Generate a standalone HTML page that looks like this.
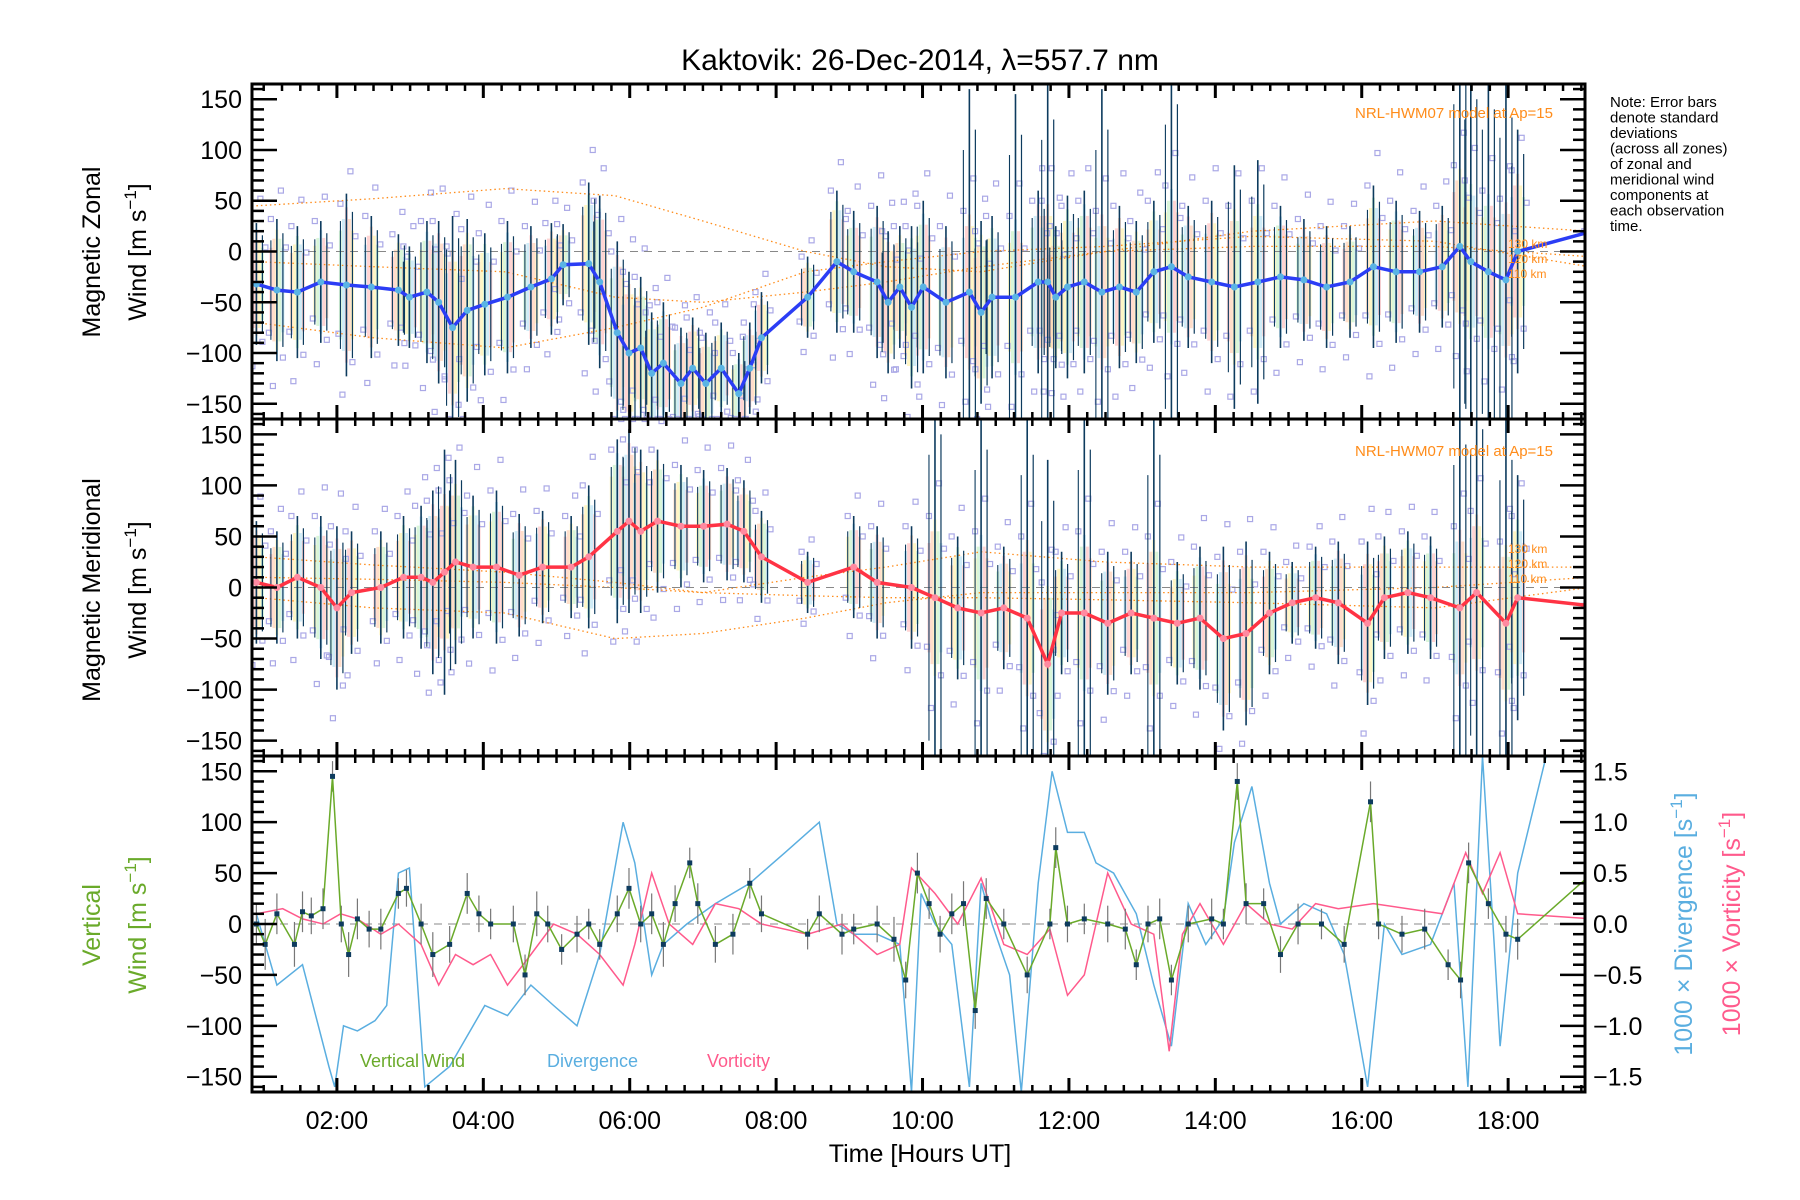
<!DOCTYPE html>
<html><head><meta charset="utf-8">
<style>
html,body{margin:0;padding:0;background:#fff;}
svg{display:block;font-family:"Liberation Sans","DejaVu Sans",sans-serif;}
</style></head>
<body>
<svg id="chart" width="1800" height="1200" viewBox="0 0 1800 1200" xmlns="http://www.w3.org/2000/svg">
<text x="920" y="70" font-size="30" text-anchor="middle">Kaktovik: 26-Dec-2014, λ=557.7 nm</text>
<text font-size="15" x="1610" y="107">
<tspan x="1610" dy="0">Note: Error bars</tspan>
<tspan x="1610" dy="15.5">denote standard</tspan>
<tspan x="1610" dy="15.5">deviations</tspan>
<tspan x="1610" dy="15.5">(across all zones)</tspan>
<tspan x="1610" dy="15.5">of zonal and</tspan>
<tspan x="1610" dy="15.5">meridional wind</tspan>
<tspan x="1610" dy="15.5">components at</tspan>
<tspan x="1610" dy="15.5">each observation</tspan>
<tspan x="1610" dy="15.5">time.</tspan>
</text>
<g id="g1"></g><g id="g2"></g><g id="g3"></g><g id="axes"></g>
</svg>
<script>
// ---- data ----
const zonT=[0.90,1.18,1.46,1.78,2.13,2.47,2.84,2.99,3.23,3.39,3.58,3.78,4.02,4.33,4.65,4.93,5.09,5.44,5.59,5.83,5.99,6.15,6.30,6.46,6.70,6.86,7.04,7.25,7.49,7.64,7.80,8.43,8.83,9.06,9.38,9.53,9.69,9.85,10.01,10.32,10.64,10.80,10.95,11.27,11.58,11.71,11.82,11.98,12.21,12.45,12.69,12.92,13.16,13.40,13.63,13.95,14.26,14.58,14.89,15.21,15.52,15.84,16.16,16.47,16.79,17.10,17.34,17.49,17.73,17.97,18.13,19.15];
const zonV=[-32,-38,-40,-30,-33,-35,-38,-45,-40,-50,-75,-58,-52,-45,-35,-27,-13,-12,-30,-80,-100,-95,-120,-110,-130,-115,-130,-115,-140,-115,-85,-45,-10,-20,-30,-50,-35,-55,-35,-50,-40,-60,-45,-45,-30,-30,-45,-35,-30,-40,-35,-40,-20,-15,-25,-30,-35,-30,-25,-28,-35,-30,-15,-20,-20,-15,5,-10,-20,-28,0,20];
const zonStd=[60,70,65,60,90,70,55,50,70,80,110,90,70,75,60,55,40,80,85,90,80,70,60,60,55,50,50,45,40,45,45,40,70,60,75,70,60,80,85,75,200,90,80,200,90,200,70,90,90,200,80,70,70,200,70,80,120,120,70,60,60,55,80,70,60,60,200,200,200,200,120,0];
const merT=[0.90,1.18,1.46,1.78,2.00,2.20,2.60,2.91,3.15,3.31,3.47,3.62,3.86,4.18,4.49,4.81,5.20,5.44,5.83,5.99,6.15,6.38,6.70,7.01,7.33,7.56,7.80,8.43,9.06,9.38,9.85,10.17,10.48,10.80,11.11,11.43,11.71,11.90,12.21,12.53,12.85,13.16,13.48,13.79,14.11,14.42,14.74,15.05,15.37,15.68,16.08,16.31,16.63,16.94,17.34,17.57,17.97,18.13,19.15];
const merV=[5,0,10,0,-20,-5,0,10,10,5,15,25,20,20,12,20,20,30,55,65,55,65,60,60,62,55,30,5,20,5,0,-10,-20,-25,-20,-30,-75,-25,-25,-35,-25,-30,-35,-30,-50,-45,-25,-15,-10,-15,-35,-10,-5,-10,-20,-5,-35,-10,-18];
const merStd=[60,55,60,70,80,60,55,60,70,90,120,100,70,75,60,55,50,70,90,90,80,70,60,55,55,50,45,30,50,55,60,200,70,200,60,200,200,60,200,70,60,200,60,70,90,90,60,40,50,60,80,60,60,60,200,200,200,120,0];
const modelT=[0.9,2.5,4.3,5.8,7.0,8.4,9.5,10.8,12.5,14.5,17.0,19.1];
const modelZA=[45,52,62,55,30,0,-15,-20,0,20,30,20];
const modelZB=[-10,-15,-20,-45,-50,-40,-30,-15,0,5,5,-5];
const modelZC=[-70,-85,-95,-75,-55,-20,-10,0,5,15,10,-15];
const modelMA=[30,22,15,5,-5,10,20,35,25,20,20,20];
const modelMB=[-10,-20,-25,-50,-45,-30,-15,-5,-5,-5,0,10];
const modelMC=[10,8,5,0,-5,-8,-10,-10,-12,-15,-20,0];
const vertT=[0.90,1.02,1.18,1.42,1.53,1.65,1.81,1.94,2.06,2.16,2.28,2.44,2.60,2.84,2.95,3.15,3.31,3.54,3.78,3.94,4.10,4.41,4.57,4.73,4.88,5.07,5.28,5.44,5.59,5.83,5.99,6.15,6.30,6.46,6.62,6.82,6.93,7.17,7.41,7.64,7.80,8.43,8.59,8.90,9.06,9.38,9.61,9.77,9.93,10.09,10.24,10.40,10.56,10.72,10.87,11.11,11.43,11.74,11.82,11.98,12.21,12.53,12.77,12.92,13.08,13.24,13.40,13.63,13.95,14.11,14.30,14.42,14.66,14.89,15.13,15.45,15.76,16.12,16.23,16.55,16.86,17.18,17.35,17.46,17.73,17.97,18.13,19.15];
const vertV=[0,-20,10,-20,12,8,15,145,0,-30,5,-5,-5,30,35,0,-30,-20,30,10,0,0,-50,10,0,-25,-10,0,-20,10,35,0,10,-20,20,60,20,-20,-10,40,10,-10,10,-10,-5,0,-15,-55,50,20,-10,10,20,-85,25,0,-50,0,75,0,5,0,-5,-40,0,5,-55,0,5,0,140,20,20,-30,0,0,-20,120,0,-10,-5,-40,-55,60,20,-10,-15,50];
const vertErr=[20,25,20,22,20,18,20,15,18,22,20,18,20,15,18,20,22,18,20,18,15,18,20,22,18,15,18,15,15,18,20,18,20,22,18,15,20,18,20,15,18,15,18,20,15,18,22,18,20,15,18,20,22,18,20,15,18,15,20,18,15,18,20,15,18,20,15,18,20,15,18,20,15,18,20,15,18,20,15,18,20,15,18,20,15,18,20,0];
const divT=[0.90,1.18,1.53,1.89,1.97,2.09,2.28,2.52,2.68,2.84,2.99,3.20,3.54,3.78,4.02,4.33,4.65,4.96,5.28,5.59,5.91,6.07,6.30,6.46,6.78,7.17,7.64,8.12,8.59,8.83,9.06,9.38,9.69,9.85,9.98,10.17,10.40,10.64,10.80,10.95,11.19,11.35,11.58,11.77,11.98,12.21,12.37,12.61,12.92,13.16,13.40,13.63,13.87,14.11,14.26,14.50,14.74,14.89,15.21,15.52,15.76,16.08,16.31,16.55,16.94,17.26,17.45,17.65,17.81,17.89,18.13,18.52];
const divV=[0.10,-0.60,-0.40,-1.40,-1.60,-1.00,-1.05,-0.95,-0.80,0.50,0.55,-1.60,-1.40,-1.10,-0.80,-0.90,-0.60,-0.80,-1.00,-0.30,1.00,0.60,-0.50,-0.20,0.00,0.20,0.40,0.70,1.00,0.00,-0.10,-0.10,-0.20,-1.70,0.30,0.00,-0.20,-1.60,0.40,0.00,-0.50,-1.70,0.40,1.50,0.90,0.90,0.60,0.50,0.10,-0.60,-1.20,0.20,-0.20,0.05,0.80,1.35,0.40,0.00,0.20,0.10,-0.30,-1.60,0.00,-0.30,-0.20,0.40,-1.60,1.70,-0.20,-1.20,0.50,1.70];
const vorT=[0.90,1.26,1.53,1.81,2.05,2.28,2.60,2.84,3.15,3.39,3.62,3.86,4.10,4.33,4.65,4.96,5.28,5.59,5.91,6.07,6.30,6.54,6.86,7.17,7.49,7.80,8.43,8.90,9.38,9.69,9.85,10.17,10.48,10.80,11.11,11.43,11.74,11.98,12.21,12.53,12.85,13.16,13.37,13.55,13.79,14.11,14.42,14.74,15.05,15.37,15.68,16.16,16.63,17.10,17.42,17.65,17.89,18.13,19.15];
const vorV=[0.10,0.15,0.05,0.00,0.10,0.05,-0.10,0.00,-0.20,-0.60,-0.30,-0.40,-0.30,-0.60,-0.30,0.00,-0.10,-0.30,-0.60,-0.20,0.50,0.00,-0.20,0.20,0.15,0.00,-0.10,0.00,-0.30,-0.20,0.55,0.30,0.00,0.45,-0.20,-0.30,-0.05,-0.70,-0.50,0.50,0.00,-0.10,-1.25,-0.10,0.20,-0.20,0.20,0.00,-0.05,0.20,0.15,0.20,0.15,0.10,0.70,0.30,0.70,0.10,0.05];
const xTickLabels=["02:00","04:00","06:00","08:00","10:00","12:00","14:00","16:00","18:00"];
const yTickLabels=["−150","−100","−50","0","50","100","150"];
const rTickLabels=["−1.5","−1.0","−0.5","0.0","0.5","1.0","1.5"];

// ---- geometry ----
const L=252,R=1585,T0=0.84,T1=19.05,YMAX=165;
const panels=[[84,419],[419,756],[756,1092]];
const NS="http://www.w3.org/2000/svg";
function X(t){return L+(t-T0)/(T1-T0)*(R-L);}
function Yf(p){const [a,b]=panels[p];return v=>{const c=Math.max(-YMAX,Math.min(YMAX,v));return (a+b)/2-c/YMAX*(b-a)/2;};}
function mk(parent,tag,attrs){const e=document.createElementNS(NS,tag);for(const k in attrs)e.setAttribute(k,attrs[k]);parent.appendChild(e);return e;}
function pts(ts,vs,y,scale){return ts.map((t,i)=>X(t).toFixed(1)+","+y(vs[i]*(scale||1)).toFixed(1)).join(" ");}
const svg=document.getElementById('chart');
const defs=mk(svg,'defs',{});
panels.forEach((p,i)=>{const c=mk(defs,'clipPath',{id:'clip'+i});mk(c,'rect',{x:L,y:p[0],width:R-L,height:p[1]-p[0]});});

function windPanel(gid,p,ts,vs,sd,lineColor,dotColor,label){
  const g=document.getElementById(gid);g.setAttribute('clip-path','url(#clip'+p+')');
  const y=Yf(p);
  const bg=mk(g,'g',{});
  const paleCols=['#ffc8a8','#fff0a0','#c0f0c0','#b0e0f4','#ffb8b8'];
  ts.forEach((t,i)=>{const s=Math.min(sd[i],90)*0.85;
    for(let k=-2;k<=2;k++){const f=1-Math.abs(k)*0.15;mk(bg,'rect',{x:X(t)+k*3-1.5,y:y(vs[i]+s*f),width:3,height:Math.max(0,y(vs[i]-s*f)-y(vs[i]+s*f)),fill:paleCols[(i+k+5)%5],opacity:0.6});}});
  const sq=mk(g,'g',{});
  const offs=[[-1.35,-4],[-0.95,6],[1.0,-6],[1.4,4],[0.6,9],[-0.6,-8]];
  ts.forEach((t,i)=>{const s=Math.min(sd[i],80);offs.forEach(o=>{mk(sq,'rect',{x:X(t)+o[1]-2.5,y:y(vs[i]+o[0]*s)-2.5,width:5,height:5,fill:'none',stroke:'#aaa8e6','stroke-width':1.2});});});
  const md=mk(g,'g',{});
  const ms=p===0?[modelZA,modelZB,modelZC]:[modelMA,modelMB,modelMC];
  ms.forEach(m=>mk(md,'polyline',{points:pts(modelT,m,y),fill:'none',stroke:'#ff8c1a','stroke-width':1.3,'stroke-dasharray':'1.5,3'}));
  mk(g,'line',{x1:L,x2:R,y1:y(0),y2:y(0),stroke:'#888','stroke-width':1,'stroke-dasharray':'8,6'});
  const eb=mk(g,'g',{});
  ts.forEach((t,i)=>{if(sd[i]>0){mk(eb,'line',{x1:X(t),x2:X(t),y1:y(vs[i]+sd[i]),y2:y(vs[i]-sd[i]),stroke:'#0d3b5e','stroke-width':1.6});
    mk(eb,'line',{x1:X(t)+6,x2:X(t)+6,y1:y(vs[i]+sd[i]*0.8),y2:y(vs[i]-sd[i]*0.8),stroke:'#0d3b5e','stroke-width':1.2});
    mk(eb,'line',{x1:X(t)-6,x2:X(t)-6,y1:y(vs[i]+sd[i]*0.7),y2:y(vs[i]-sd[i]*0.7),stroke:'#0d3b5e','stroke-width':1.1});}});
  const ln=mk(g,'polyline',{points:pts(ts,vs,y),fill:'none',stroke:lineColor,'stroke-width':3.5});
  
  const dg=mk(g,'g',{});
  ts.forEach((t,i)=>mk(dg,'circle',{cx:X(t),cy:y(vs[i]),r:3.5,fill:dotColor}));
  const lab=mk(svg,'text',{x:1553,y:p===0?118:456,'font-size':15,fill:'#ff8c1a','text-anchor':'end'});lab.textContent='NRL-HWM07 model at Ap=15';
  
  ['130 km','120 km','110 km'].forEach((s,k)=>{const tx=mk(svg,'text',{x:1508,y:(p===0?248:553)+k*15,'font-size':12,fill:'#ff8c1a'});tx.textContent=s;
    });
}
windPanel('g1',0,zonT,zonV,zonStd,'#2b3df5','#5ab4e4','zonal');
windPanel('g2',1,merT,merV,merStd,'#ff3344','#ff8aa0','meridional');

// panel 3
(function(){
  const g=document.getElementById('g3');g.setAttribute('clip-path','url(#clip2)');
  const y=Yf(2);
  mk(g,'line',{x1:L,x2:R,y1:y(0),y2:y(0),stroke:'#888','stroke-width':1,'stroke-dasharray':'8,6'});
  const dv=mk(g,'polyline',{points:pts(divT,divV,y,100),fill:'none',stroke:'#5aaee0','stroke-width':1.5});
  
  const vo=mk(g,'polyline',{points:pts(vorT,vorV,y,100),fill:'none',stroke:'#ff5a8c','stroke-width':1.5});
  
  const eb=mk(g,'g',{});
  vertT.forEach((t,i)=>{if(vertErr[i]>0)mk(eb,'line',{x1:X(t),x2:X(t),y1:y(vertV[i]+vertErr[i]),y2:y(vertV[i]-vertErr[i]),stroke:'#777','stroke-width':1.2});});
  const vw=mk(g,'polyline',{points:pts(vertT,vertV,y),fill:'none',stroke:'#6aaa2a','stroke-width':1.5});
  
  const dg=mk(g,'g',{});
  vertT.forEach((t,i)=>{if(vertErr[i]>0)mk(dg,'rect',{x:X(t)-2.5,y:y(vertV[i])-2.5,width:5,height:5,fill:'#0d3b5e'});});
  [['Vertical Wind','#6aaa2a',360],['Divergence','#5aaee0',547],['Vorticity','#ff5a8c',707]].forEach(l=>{
    const tx=mk(svg,'text',{x:l[2],y:1067,'font-size':18,fill:l[1]});tx.textContent=l[0];
    });
})();

// axes
(function(){
  const a=document.getElementById('axes');
  panels.forEach((p,pi)=>{
    const y=Yf(pi);
    mk(a,'rect',{x:L,y:p[0],width:R-L,height:p[1]-p[0],fill:'none',stroke:'#000','stroke-width':3});
    for(let v=-160;v<=160;v+=10){const major=v%50===0;const len=major?25:12;
      mk(a,'line',{x1:L,x2:L+len,y1:y(v),y2:y(v),stroke:'#000','stroke-width':2.5});
      mk(a,'line',{x1:R,x2:R-len,y1:y(v),y2:y(v),stroke:'#000','stroke-width':2.5});}
    yTickLabels.forEach((s,k)=>{const v=-150+k*50;const tx=mk(svg,'text',{x:L-10,y:y(v)+9,'font-size':25,'text-anchor':'end'});tx.textContent=s;
      });
    if(pi===2)rTickLabels.forEach((s,k)=>{const v=-150+k*50;const tx=mk(svg,'text',{x:R+8,y:y(v)+9,'font-size':25});tx.textContent=s;
      });
    for(let t=1;t<=19;t+=0.25){const major=Math.abs(t/2-Math.round(t/2))<1e-6;const len=major?14:7;
      mk(a,'line',{x1:X(t),x2:X(t),y1:p[1],y2:p[1]-len,stroke:'#000','stroke-width':major?3:2.5});
      mk(a,'line',{x1:X(t),x2:X(t),y1:p[0],y2:p[0]+len,stroke:'#000','stroke-width':major?3:2.5});}
  });
  xTickLabels.forEach((s,k)=>{const tx=mk(svg,'text',{x:X(2+2*k),y:1129,'font-size':25,'text-anchor':'middle'});tx.textContent=s;
    });
  const xt=mk(svg,'text',{x:920,y:1162,'font-size':25,'text-anchor':'middle'});xt.textContent='Time [Hours UT]';
  
  function ylab(cx,cy,txt,col,name){const tx=mk(svg,'text',{x:cx,y:cy,'font-size':25,'text-anchor':'middle',fill:col,transform:'rotate(-90 '+cx+' '+cy+')'});
    tx.innerHTML=txt;}
  ylab(100,252,'Magnetic Zonal','#000','y-axis-title-zonal');
  ylab(146,252,'Wind [m s<tspan dy="-10" font-size="17">−1</tspan><tspan dy="10">]</tspan>','#000','y-axis-title-zonal-units');
  ylab(100,590,'Magnetic Meridional','#000','y-axis-title-meridional');
  ylab(146,590,'Wind [m s<tspan dy="-10" font-size="17">−1</tspan><tspan dy="10">]</tspan>','#000','y-axis-title-meridional-units');
  ylab(100,925,'Vertical','#6aaa2a','y-axis-title-vertical');
  ylab(146,925,'Wind [m s<tspan dy="-10" font-size="17">−1</tspan><tspan dy="10">]</tspan>','#6aaa2a','y-axis-title-vertical-units');
  ylab(1692,924,'1000 × Divergence [s<tspan dy="-10" font-size="17">−1</tspan><tspan dy="10">]</tspan>','#5aaee0','right-axis-title-divergence');
  ylab(1740,924,'1000 × Vorticity [s<tspan dy="-10" font-size="17">−1</tspan><tspan dy="10">]</tspan>','#ff5a8c','right-axis-title-vorticity');
})();
</script>
</body></html>
